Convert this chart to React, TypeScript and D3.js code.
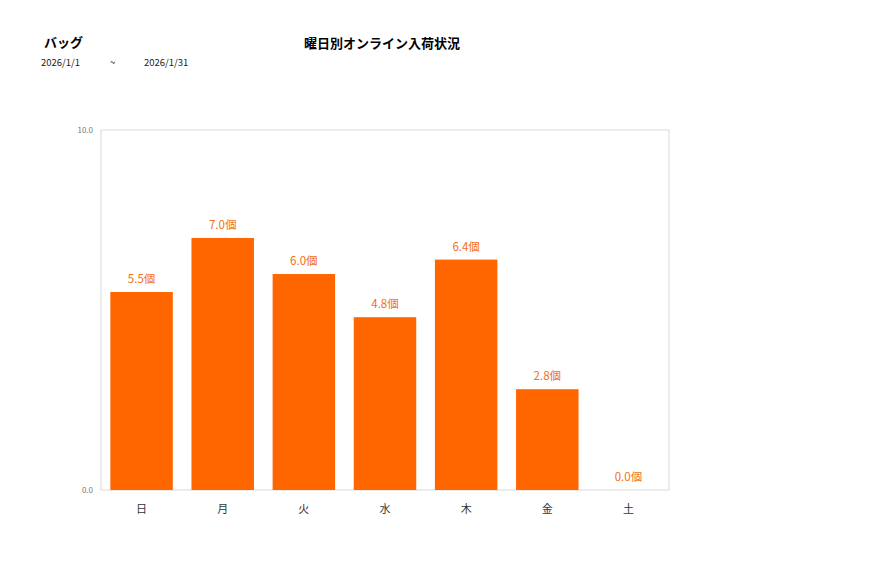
import { useEffect, useRef } from "react";
import * as d3 from "d3";

const days = ["日", "月", "火", "水", "木", "金", "土"];
const values = [5.5, 7.0, 6.0, 4.8, 6.4, 2.8, 0.0];
const yTicks = [0, 10];

const W = 877;
const H = 578;
const FONT = "'Noto Sans CJK JP', 'Noto Sans', sans-serif";

export default function App() {
  const ref = useRef<SVGSVGElement>(null);

  useEffect(() => {
    if (!ref.current) return;
    const svg = d3.select(ref.current);
    svg.selectAll("*").remove();

    const left = 101, right = 669, top = 130, bottom = 490;

    const x = d3.scaleBand<string>().domain(days).range([left, right]).paddingInner(0.23).paddingOuter(0.115);
    const y = d3.scaleLinear().domain([0, 10]).range([bottom, top]);

    svg.append("rect").attr("width", W).attr("height", H).attr("fill", "#fff");

    // titles
    svg.append("text").attr("x", 44).attr("y", 47).attr("font-family", FONT)
      .attr("font-size", 13).attr("font-weight", "bold").attr("fill", "#000").text("バッグ");
    svg.append("text").attr("x", 382).attr("y", 48).attr("text-anchor", "middle").attr("font-family", FONT)
      .attr("font-size", 13).attr("font-weight", "bold").attr("fill", "#000").text("曜日別オンライン入荷状況");
    const sub = svg.append("g").attr("font-family", FONT).attr("font-size", 9.5).attr("fill", "#222");
    sub.append("text").attr("x", 41).attr("y", 66).text("2026/1/1");
    sub.append("text").attr("x", 110).attr("y", 66).text("~");
    sub.append("text").attr("x", 144).attr("y", 66).text("2026/1/31");

    // plot frame
    svg.append("rect").attr("x", left).attr("y", top).attr("width", right - left).attr("height", bottom - top)
      .attr("fill", "none").attr("stroke", "#d9d9d9").attr("stroke-width", 1);

    // y ticks
    svg.append("g").selectAll("text").data(yTicks).join("text")
      .attr("x", left - 8).attr("y", (d) => y(d) + 3).attr("text-anchor", "end")
      .attr("font-family", FONT).attr("font-size", 8).attr("fill", "#777")
      .text((d) => d.toFixed(1));

    // bars
    svg.append("g").selectAll("rect").data(values).join("rect")
      .attr("x", (_, i) => x(days[i])!).attr("width", x.bandwidth())
      .attr("y", (d) => y(d)).attr("height", (d) => bottom - y(d))
      .attr("fill", "#ff6600");

    // value labels
    svg.append("g").selectAll("text").data(values).join("text")
      .attr("x", (_, i) => x(days[i])! + x.bandwidth() / 2)
      .attr("y", (d) => y(d) - 9).attr("text-anchor", "middle")
      .attr("font-family", FONT).attr("font-size", 11.5).attr("fill", "#f07020")
      .text((d) => `${d.toFixed(1)}個`);

    // x labels
    svg.append("g").selectAll("text").data(days).join("text")
      .attr("x", (d) => x(d)! + x.bandwidth() / 2).attr("y", bottom + 23)
      .attr("text-anchor", "middle").attr("font-family", FONT).attr("font-size", 11).attr("fill", "#333")
      .text((d) => d);
  }, []);

  return <svg ref={ref} width={W} height={H} style={{ display: "block", margin: -8 }} />;
}
